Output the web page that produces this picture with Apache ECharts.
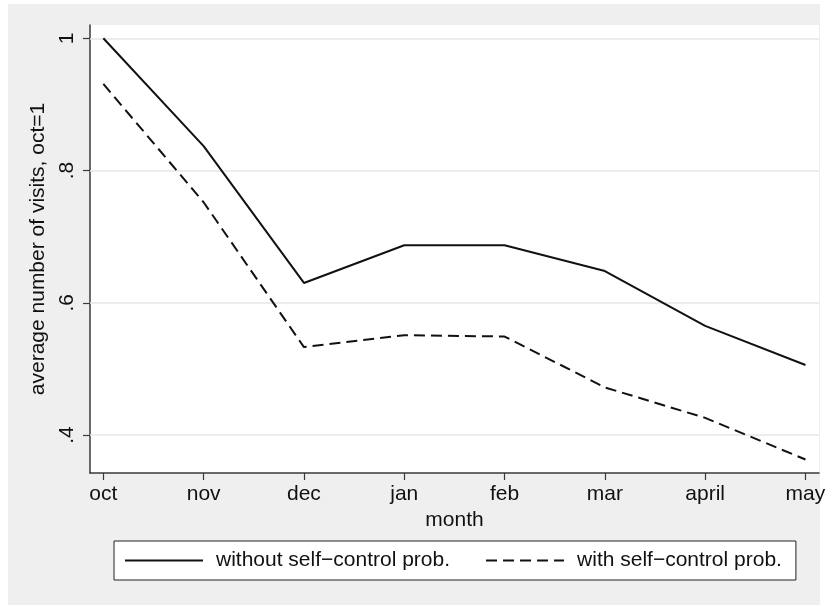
<!DOCTYPE html>
<html>
<head>
<meta charset="utf-8">
<script src="https://cdn.jsdelivr.net/npm/echarts@6/dist/echarts.min.js"></script>
<style>
  html, body { margin: 0; padding: 0; background: #ffffff; width: 833px; height: 606px; overflow: hidden; }
  #panel { position: absolute; left: 8px; top: 4px; width: 812px; height: 601px; background: #efefef; }
  #chart { position: absolute; left: 0; top: 0; width: 833px; height: 606px; }
</style>
</head>
<body>
<div id="panel"></div>
<div id="chart"></div>
<script>
// Month categories along the x axis
const months = ['oct', 'nov', 'dec', 'jan', 'feb', 'mar', 'april', 'may'];

// Average number of visits, normalised so that October = 1
const withoutSelfControl = [1.000, 0.837, 0.630, 0.687, 0.687, 0.648, 0.565, 0.506];
const withSelfControl    = [0.931, 0.752, 0.533, 0.551, 0.549, 0.472, 0.426, 0.363];

// Y tick positions and their printed labels
const yTicks = [0.4, 0.6, 0.8, 1.0];
const yTickLabels = ['.4', '.6', '.8', '1'];

const seriesNames = ['without self\u2212control prob.', 'with self\u2212control prob.'];

const FONT = '"Liberation Sans", Helvetica, Arial, sans-serif';
const FS = 21;
const INK = '#111111';
const AXIS = '#3a3a3a';

const chart = echarts.init(document.getElementById('chart'), null, { renderer: 'canvas' });

const xIdx = months.map((_, i) => i);
const toPoints = vals => vals.map((v, i) => [i, v]);

chart.setOption({
  animation: false,
  backgroundColor: 'transparent',
  textStyle: { fontFamily: FONT },
  grid: {
    left: 90, top: 25, right: 14, bottom: 133,
    outerBoundsMode: 'none',
    containLabel: false,
    show: true, backgroundColor: '#ffffff', borderWidth: 0
  },
  xAxis: {
    type: 'value',
    min: -0.133, max: 7.135,
    name: 'month',
    nameLocation: 'middle',
    nameGap: 32,
    nameTextStyle: { fontFamily: FONT, fontSize: FS, color: INK },
    axisLine: { show: true, onZero: false, lineStyle: { color: AXIS, width: 1.5 } },
    axisTick: { show: true, length: 7, customValues: xIdx, lineStyle: { color: AXIS, width: 1.2 } },
    axisLabel: {
      customValues: xIdx,
      margin: 11,
      fontFamily: FONT, fontSize: FS, color: INK,
      formatter: v => months[Math.round(v)] ?? ''
    },
    splitLine: { show: false }
  },
  yAxis: {
    type: 'value',
    min: 0.3426, max: 1.0201,
    name: 'average number of visits, oct=1',
    nameLocation: 'middle',
    nameGap: 40,
    nameRotate: 90,
    nameTextStyle: { fontFamily: FONT, fontSize: FS, color: INK },
    axisLine: { show: true, onZero: false, lineStyle: { color: AXIS, width: 1.5 } },
    axisTick: { show: true, length: 7, customValues: yTicks, lineStyle: { color: AXIS, width: 1.2 } },
    axisLabel: {
      customValues: yTicks,
      rotate: 90,
      margin: 12,
      fontFamily: FONT, fontSize: FS, color: INK,
      formatter: v => {
        const k = yTicks.findIndex(t => Math.abs(t - v) < 1e-6);
        return k >= 0 ? yTickLabels[k] : '';
      }
    },
    splitLine: { show: false }
  },
  legend: {
    data: seriesNames,
    left: 114, top: 541,
    orient: 'horizontal',
    padding: [9, 14, 9, 10],
    itemWidth: 78, itemHeight: 20,
    itemGap: 35,
    backgroundColor: '#ffffff',
    borderColor: '#222222', borderWidth: 1, borderRadius: 0,
    // keep only the line sample in each key, no marker dot
    itemStyle: { opacity: 0 },
    textStyle: { fontFamily: FONT, fontSize: FS, color: INK, padding: [0, 0, 0, 8] }
  },
  series: [
    {
      // horizontal reference lines at each labelled tick
      type: 'line',
      data: [],
      silent: true,
      z: 1,
      markLine: {
        silent: true,
        z: 1,
        symbol: ['none', 'none'],
        label: { show: false },
        lineStyle: { color: '#e6e6e6', width: 1.5, type: 'solid' },
        data: yTicks.map(t => ({ yAxis: t }))
      }
    },
    {
      name: seriesNames[0],
      type: 'line',
      data: toPoints(withoutSelfControl),
      symbol: 'none',
      z: 3,
      lineStyle: { color: INK, width: 2, type: 'solid' },
      itemStyle: { color: INK }
    },
    {
      name: seriesNames[1],
      type: 'line',
      data: toPoints(withSelfControl),
      symbol: 'none',
      z: 3,
      lineStyle: { color: INK, width: 2, type: [11, 6] },
      itemStyle: { color: INK }
    }
  ]
});
</script>
</body>
</html>
